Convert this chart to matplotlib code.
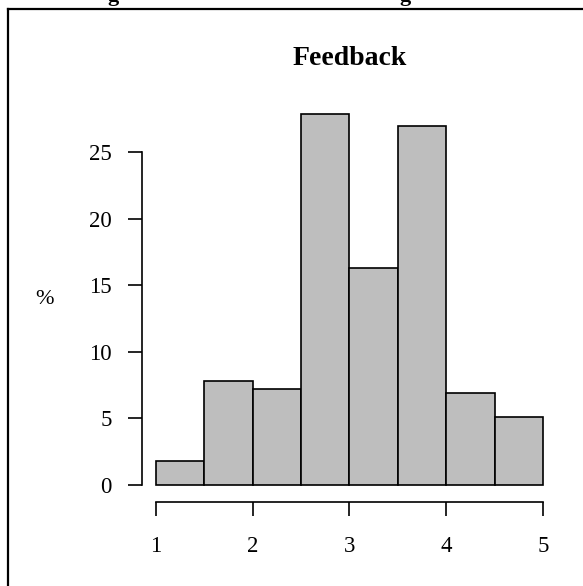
import matplotlib as mpl
mpl.use("Agg")
import matplotlib.pyplot as plt
from matplotlib.lines import Line2D

#######
# Data (percent per bin, bins of width 0.5 from 1 to 5)

bin_left = [1.0, 1.5, 2.0, 2.5, 3.0, 3.5, 4.0, 4.5]
pct = [1.8, 7.8, 7.2, 27.9, 16.3, 27.0, 6.9, 5.1]
bin_width = 0.5
xticks = [1, 2, 3, 4, 5]
yticks = [0, 5, 10, 15, 20, 25]

#######
# Plot

mpl.rcParams['font.family'] = ['Liberation Serif', 'DejaVu Serif']
mpl.rcParams['xtick.direction'] = 'out'
mpl.rcParams['ytick.direction'] = 'out'

W, H = 583, 586
fig = plt.figure(figsize=(W / 100, H / 100), dpi=100)

ax = fig.add_axes([0.244, 0.1439, 0.7106, 0.6918])
ax.bar(bin_left, pct, width=bin_width, align='edge',
       color='#bebebe', edgecolor='black', linewidth=1.2)

ax.set_xlim(0.858, 5.14)
ax.set_ylim(-1.25, 29.2)

for s in ['top', 'right']:
    ax.spines[s].set_visible(False)
ax.spines['left'].set_bounds(0, 25)
ax.spines['bottom'].set_bounds(1, 5)
for s in ['left', 'bottom']:
    ax.spines[s].set_linewidth(1.2)

ax.set_xticks(xticks)
ax.set_yticks(yticks)
ax.set_xticklabels([str(v) for v in xticks])
ax.set_yticklabels([str(v) for v in yticks])
ax.tick_params(axis='both', length=10, width=1.2, labelsize=16.5)
ax.tick_params(axis='x', pad=15)
ax.tick_params(axis='y', pad=12)

# title centred over the plot region
fig.text(349.5 / W, 1 - 65 / H, 'Feedback', fontsize=20, fontweight='bold',
         ha='center', va='baseline')

fig.text(44 / W, 1 - 300 / H, '%', fontsize=16, ha='center', va='center')

# page border around the figure and clipped caption above it
fig.add_artist(Line2D([8 / W, 8 / W], [0, 1 - 9 / H], color='black', lw=1.6,
                      transform=fig.transFigure))
fig.add_artist(Line2D([8 / W, 1], [1 - 9 / H, 1 - 9 / H], color='black', lw=1.6,
                      transform=fig.transFigure))
fig.text(113 / W, 1 - 1 / H, 'g', fontsize=16, fontweight='bold',
         ha='center', va='baseline')
fig.text(405 / W, 1 - 1 / H, 'g', fontsize=16, fontweight='bold',
         ha='center', va='baseline')

fig.savefig('out.png', dpi=100)
